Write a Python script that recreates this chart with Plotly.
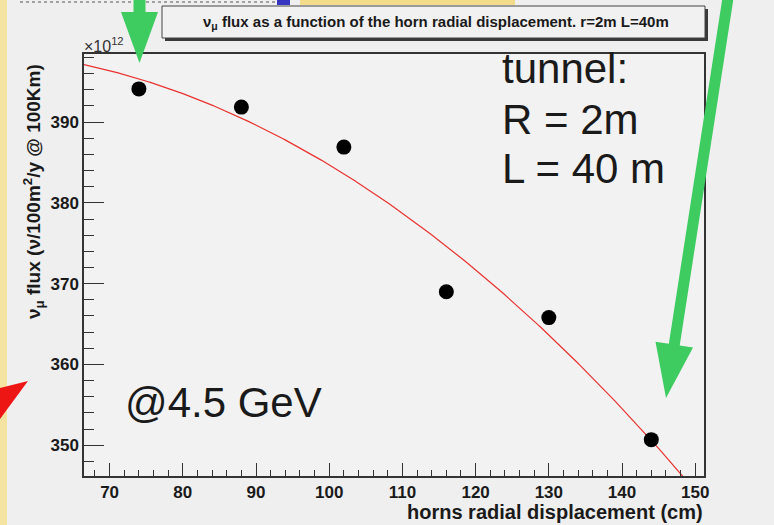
import numpy as np
import plotly.graph_objects as go

# Horn radial displacement scan (cm) and resulting nu_mu flux (x1e12 per 100 m^2 per year at 100 km)
displacement_cm = [74, 88, 102, 116, 130, 144]
flux_e12 = [394.1, 391.85, 386.9, 369.0, 365.8, 350.7]

x_ticks = [70, 80, 90, 100, 110, 120, 130, 140, 150]
y_ticks = [350, 360, 370, 380, 390]

X_RANGE = [66.5, 151.2]
Y_RANGE = [346.2, 398.42]

W, H = 774, 525
L, R, T, B = 84, 70, 54, 49

# quadratic fit through the measured points
coef = np.polyfit(displacement_cm, flux_e12, 2)
fit_x = np.linspace(X_RANGE[0], X_RANGE[1], 300)
fit_y = np.polyval(coef, fit_x)

PW = W - L - R
PH = H - T - B


def px(xpix):
    return (xpix - L) / PW


def py(ypix):
    return (H - B - ypix) / PH


def poly_path(points):
    return "M " + " L ".join(f"{px(a):.5f},{py(b):.5f}" for a, b in points) + " Z"


def arrow_points(start, tip, shaft_half, head_half, head_len):
    sx, sy = start
    tx, ty = tip
    d = np.array([tx - sx, ty - sy], dtype=float)
    u = d / np.linalg.norm(d)
    n = np.array([u[1], -u[0]])
    base = np.array([tx, ty]) - head_len * u
    s = np.array([sx, sy])
    pts = [s + shaft_half * n, base + shaft_half * n, base + head_half * n,
           np.array([tx, ty]), base - head_half * n, base - shaft_half * n,
           s - shaft_half * n]
    return [(p[0], p[1]) for p in pts]


fig = go.Figure()

fig.add_trace(go.Scatter(
    x=fit_x, y=fit_y, mode="lines",
    line=dict(color="#e8322f", width=1.2),
    hoverinfo="skip", showlegend=False,
))
fig.add_trace(go.Scatter(
    x=displacement_cm, y=flux_e12, mode="markers",
    marker=dict(color="black", size=15),
    showlegend=False,
))

GREEN = "#3ecb60"
shapes = []
# page edge decorations
shapes.append(dict(type="rect", xref="paper", yref="paper",
                   x0=px(0), x1=px(7), y0=py(525), y1=py(0),
                   fillcolor="#f5e3a2", line=dict(width=0), layer="below"))
shapes.append(dict(type="rect", xref="paper", yref="paper",
                   x0=px(300), x1=px(515), y0=py(5), y1=py(0),
                   fillcolor="#f2dc8c", line=dict(width=0), layer="below"))
shapes.append(dict(type="rect", xref="paper", yref="paper",
                   x0=px(277), x1=px(290), y0=py(5), y1=py(0),
                   fillcolor="#3535c0", line=dict(width=0), layer="below"))
shapes.append(dict(type="line", xref="paper", yref="paper",
                   x0=px(20), x1=px(277), y0=py(2), y1=py(2),
                   line=dict(color="#555555", width=1, dash="dot")))

# title box with shadow
shapes.append(dict(type="rect", xref="paper", yref="paper",
                   x0=px(165), x1=px(708), y0=py(41), y1=py(9),
                   fillcolor="#3a3a3a", line=dict(width=0)))
shapes.append(dict(type="rect", xref="paper", yref="paper",
                   x0=px(162), x1=px(705), y0=py(38), y1=py(6),
                   fillcolor="#f1f1f1", line=dict(color="#444444", width=1)))

# arrows
shapes.append(dict(type="path", xref="paper", yref="paper",
                   path=poly_path(arrow_points((139.5, -2), (139.5, 63), 6, 18.5, 51)),
                   fillcolor=GREEN, line=dict(width=0)))
shapes.append(dict(type="path", xref="paper", yref="paper",
                   path=poly_path(arrow_points((728, -2), (666, 398), 5.5, 19, 54)),
                   fillcolor=GREEN, line=dict(width=0)))
shapes.append(dict(type="path", xref="paper", yref="paper",
                   path=poly_path([(28, 381), (0, 388), (0, 419)]),
                   fillcolor="#ee1515", line=dict(width=0)))

TXT = "#1a1a1a"
annotations = [
    dict(text="ν<sub>μ</sub> flux as a function of the horn radial displacement. r=2m L=40m",
         x=px(436), y=py(22), xref="paper", yref="paper", showarrow=False,
         xanchor="center", yanchor="middle",
         font=dict(family="Liberation Sans", size=15, color=TXT, weight="bold")),
    dict(text="×10<sup>12</sup>", x=px(82), y=py(45), xref="paper", yref="paper",
         showarrow=False, xanchor="left", yanchor="middle",
         font=dict(family="Liberation Sans", size=16, color="#333333")),
    dict(text="ν<sub>μ</sub> flux (ν/100m<sup>2</sup>/y @ 100Km)", x=px(33), y=py(192),
         xref="paper", yref="paper", showarrow=False, textangle=-90,
         xanchor="center", yanchor="middle",
         font=dict(family="Liberation Sans", size=19, color=TXT, weight="bold")),
    dict(text="horns radial displacement (cm)", x=px(705), y=py(512),
         xref="paper", yref="paper", showarrow=False,
         xanchor="right", yanchor="middle",
         font=dict(family="Liberation Sans", size=20, color=TXT, weight="bold")),
]
for label, ycen in [("tunnel:", 69), ("R = 2m", 120), ("L = 40 m", 168)]:
    annotations.append(dict(text=label, x=px(500), y=py(ycen), xref="paper", yref="paper",
                            showarrow=False, xanchor="left", yanchor="middle",
                            font=dict(family="Liberation Sans", size=42, color=TXT)))
annotations.append(dict(text="@4.5 GeV", x=px(123), y=py(402), xref="paper", yref="paper",
                        showarrow=False, xanchor="left", yanchor="middle",
                        font=dict(family="Liberation Sans", size=42, color=TXT)))

axis_common = dict(
    showline=True, linecolor="#333333", linewidth=1.5, mirror=True,
    showgrid=False, zeroline=False, ticks="inside", tickcolor="#333333",
    tickwidth=1.2,
    tickfont=dict(family="Liberation Sans", size=17, color=TXT, weight="bold"),
)

fig.update_layout(
    width=W, height=H,
    margin=dict(l=L, r=R, t=T, b=B, pad=0),
    paper_bgcolor="#efefef", plot_bgcolor="#f2f2f2",
    xaxis=dict(range=X_RANGE, tickvals=x_ticks, ticklen=13,
               minor=dict(ticks="inside", dtick=2, ticklen=6, tickcolor="#333333", tickwidth=1),
               **axis_common),
    yaxis=dict(range=Y_RANGE, tickvals=y_ticks, ticklen=20,
               minor=dict(ticks="inside", dtick=2, ticklen=10, tickcolor="#333333", tickwidth=1),
               **axis_common),
    shapes=shapes, annotations=annotations,
)

fig.write_html("out.html")
